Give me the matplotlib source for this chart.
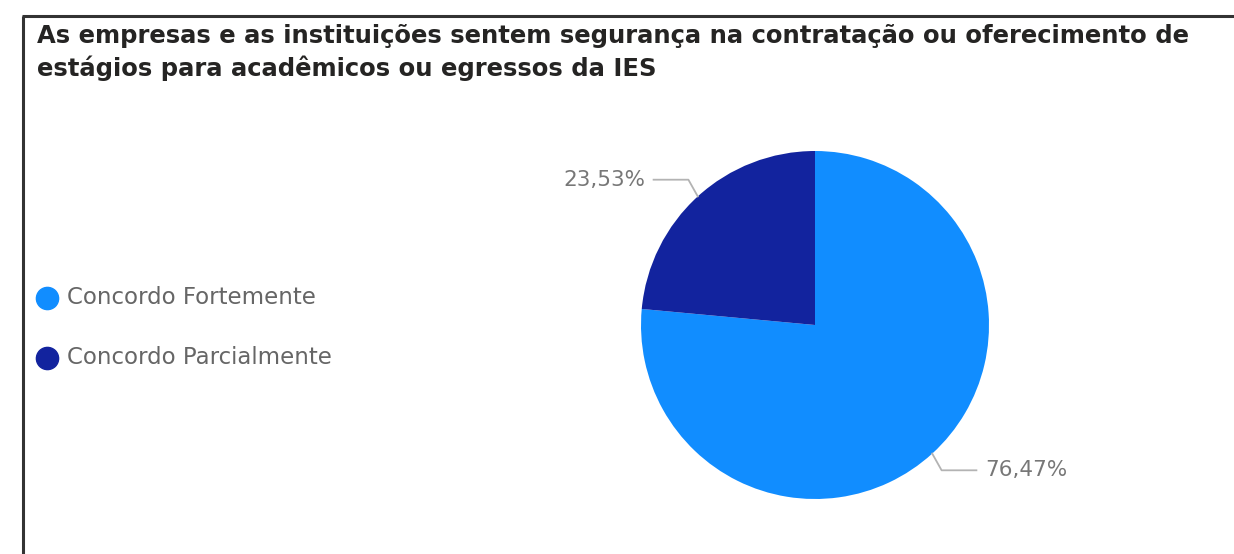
import matplotlib.pyplot as plt
import numpy as np
from matplotlib.lines import Line2D

title = ("As empresas e as instituições sentem segurança na contratação ou oferecimento de\n"
         "estágios para acadêmicos ou egressos da IES")
categories = ['Concordo Fortemente', 'Concordo Parcialmente']
values = [76.47, 23.53]
labels = ['76,47%', '23,53%']
colors = ['#118DFF', '#12239E']

W, H = 1234, 554
fig = plt.figure(figsize=(W / 100, H / 100), dpi=100)
fig.patch.set_facecolor('white')

# frame (left and top edges only visible)
fig.add_artist(Line2D([23 / W, 23 / W], [0, 1 - 16 / H], color='#333333', lw=2.2,
                      transform=fig.transFigure, solid_capstyle='butt'))
fig.add_artist(Line2D([22 / W, 1], [1 - 16 / H, 1 - 16 / H], color='#333333', lw=2.2,
                      transform=fig.transFigure, solid_capstyle='butt'))

fig.text(37 / W, 1 - 24 / H, title, ha='left', va='top', fontsize=17.5, fontweight='bold',
         color='#252423', linespacing=1.38, family='DejaVu Sans')

# pie
cx, cy, r = 815, 325, 174
ax = fig.add_axes([(cx - r) / W, (H - cy - r) / H, 2 * r / W, 2 * r / H])
wedges, _ = ax.pie(values, colors=colors, startangle=90, counterclock=False,
                   radius=1, wedgeprops=dict(linewidth=0))
ax.set_xlim(-1, 1)
ax.set_ylim(-1, 1)
ax.set_aspect('equal')
ax.axis('off')

for w, lab in zip(wedges, labels):
    th = np.deg2rad((w.theta1 + w.theta2) / 2)
    x0, y0 = np.cos(th), np.sin(th)
    x1, y1 = 1.08 * x0, 1.13 * y0
    side = np.sign(x0)
    x2 = x1 + side * 0.2
    ax.plot([x0, x1, x2], [y0, y1, y1], color='#b3b3b3', lw=1.3, clip_on=False)
    ax.text(x2 + side * 0.05, y1, lab, ha='left' if side > 0 else 'right', va='center',
            fontsize=15.5, color='#777777', clip_on=False)

# legend
for i, (cat, col) in enumerate(zip(categories, colors)):
    yy = 1 - (298 + 60 * i) / H
    fig.add_artist(Line2D([47 / W], [yy], marker='o', markersize=16, color=col,
                          transform=fig.transFigure, linestyle='none'))
    fig.text(67 / W, yy, cat, ha='left', va='center', fontsize=16.5, color='#666666')

fig.savefig('out.png', dpi=100, facecolor='white')
